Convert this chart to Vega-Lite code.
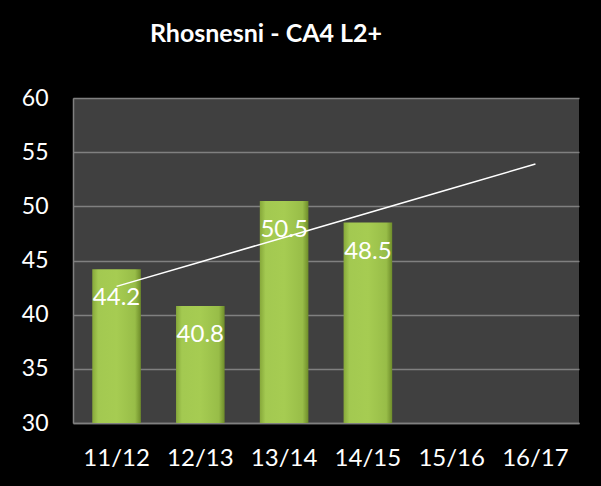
{
  "$schema": "https://vega.github.io/schema/vega-lite/v6.json",
  "width": 506,
  "height": 325,
  "autosize": "none",
  "padding": {"left": 73, "top": 98, "right": 22, "bottom": 63},
  "background": "#000000",
  "title": {
    "text": "Rhosnesni - CA4 L2+",
    "font": "Lato",
    "fontSize": 25,
    "fontWeight": "bold",
    "color": "#ffffff",
    "anchor": "middle",
    "baseline": "alphabetic",
    "offset": 20,
    "dx": -60
  },
  "config": {
    "view": {"fill": "#404040", "stroke": null},
    "axis": {"labelFont": "Lato", "labelFontSize": 23, "labelColor": "#ffffff", "titleColor": "#ffffff"}
  },
  "data": {
    "values": [
      {"year": "11/12", "value": 44.2, "trend": 42.61},
      {"year": "12/13", "value": 40.8, "trend": 44.87},
      {"year": "13/14", "value": 50.5, "trend": 47.13},
      {"year": "14/15", "value": 48.5, "trend": 49.39},
      {"year": "15/16", "value": null, "trend": 51.65},
      {"year": "16/17", "value": null, "trend": 53.91}
    ]
  },
  "encoding": {
    "x": {
      "field": "year",
      "type": "nominal",
      "sort": null,
      "scale": {"paddingInner": 0.42, "paddingOuter": 0.23},
      "axis": {"title": null, "labelAngle": 0, "labelFontSize": 24, "ticks": false, "grid": false, "domain": true, "domainColor": "#808080", "domainWidth": 1.5, "labelPadding": 23}
    }
  },
  "layer": [
    {
      "mark": {
        "type": "bar",
        "fill": {
          "gradient": "linear",
          "x1": 0, "y1": 0, "x2": 1, "y2": 0,
          "stops": [
            {"offset": 0, "color": "#86a83a"},
            {"offset": 0.12, "color": "#a3c951"},
            {"offset": 0.5, "color": "#a6cc52"},
            {"offset": 0.88, "color": "#98bd48"},
            {"offset": 1, "color": "#6e8c2a"}
          ]
        }
      },
      "encoding": {
        "y": {
          "field": "value",
          "type": "quantitative",
          "scale": {"domain": [30, 60], "nice": false, "zero": false},
          "axis": {"title": null, "values": [30, 35, 40, 45, 50, 55, 60], "grid": true, "gridColor": "#808080", "gridWidth": 1.5, "ticks": false, "domain": true, "domainColor": "#808080", "domainWidth": 1.5, "labelPadding": 25}
        },
        "y2": {"datum": 30}
      }
    },
    {
      "mark": {"type": "text", "font": "Lato", "fontSize": 24, "color": "#ffffff", "baseline": "middle", "dy": 29},
      "encoding": {
        "y": {"field": "value", "type": "quantitative"},
        "text": {"field": "value", "type": "quantitative", "format": ".1f"}
      }
    },
    {
      "mark": {"type": "line", "color": "#ffffff", "strokeWidth": 1.5},
      "encoding": {
        "y": {"field": "trend", "type": "quantitative"}
      }
    }
  ]
}
